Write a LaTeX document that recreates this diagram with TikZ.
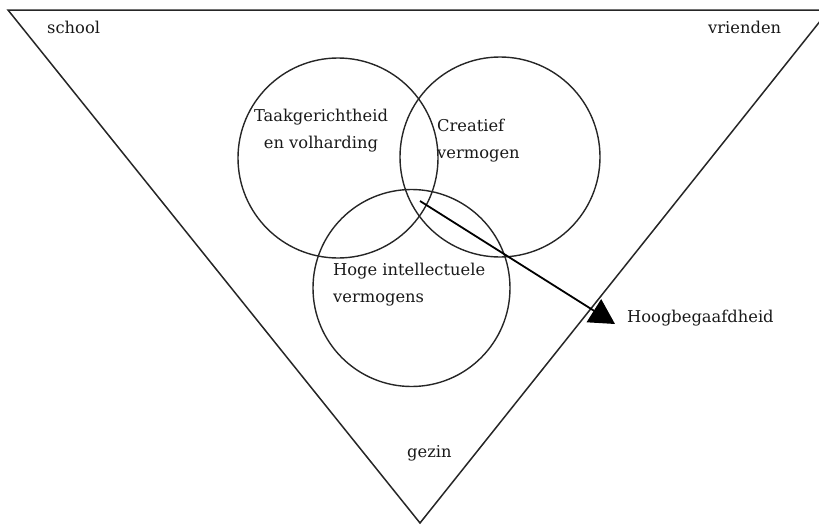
\documentclass[tikz,border=0pt]{standalone}
\usepackage{fontspec}
\setmainfont{DejaVu Serif}
\usetikzlibrary{arrows.meta}
\begin{document}
\begin{tikzpicture}[x=1pt,y=-1pt,
  frame/.style={line width=1.5pt,draw=black!85},
  ring/.style={circle,draw=black!85,line width=1.4pt,inner sep=0pt,minimum size=#1},
  lbl/.style={font=\fontsize{16.3}{27}\selectfont,inner sep=0pt,text=black!90},
  pointer/.style={line width=1.8pt,-{Triangle[length=25pt,width=27pt]}}]
\useasboundingbox (0,0) rectangle (819,525);
\clip (0,0) rectangle (819,525);
\coordinate (tl) at (8,10);
\coordinate (tr) at (829,10);
\coordinate (bt) at (420,523);
\draw[frame] (tl) -- (tr) -- (bt) -- cycle;
\node[ring=200pt] (c1) at (338,158) {};
\node[ring=200pt] (c2) at (500,157) {};
\node[ring=197pt] (c3) at (411.5,288) {};
\node[lbl,align=center] (t1) at (321,131) {Taakgerichtheid\\en volharding};
\node[lbl,align=left,anchor=west] (t2) at (437,141) {Creatief\\vermogen};
\node[lbl,align=left,anchor=west] (t3) at (333,285) {Hoge intellectuele\\vermogens};
\node[lbl,anchor=west] (hb) at (627,318) {Hoogbegaafdheid};
\node[lbl,anchor=west] (sc) at (47,27) {school};
\node[lbl,anchor=west] (vr) at (708,27) {vrienden};
\node[lbl,anchor=west] (gz) at (407,453) {gezin};
\coordinate (st) at (420,201);
\coordinate (tip) at (615,324);
\draw[pointer] (st) -- (tip);
\end{tikzpicture}
\end{document}
